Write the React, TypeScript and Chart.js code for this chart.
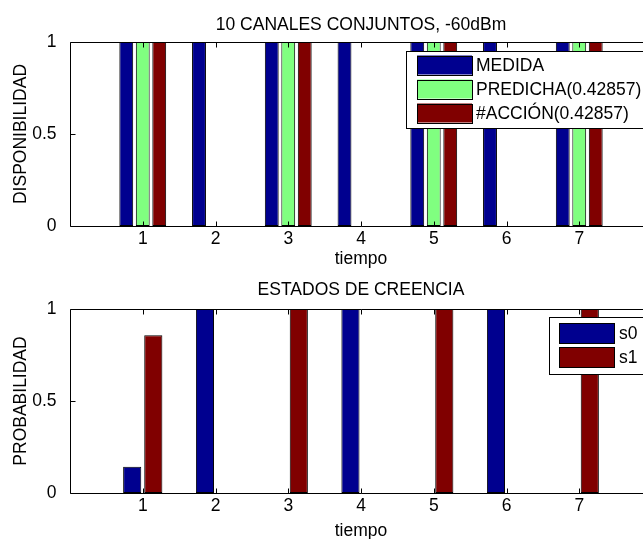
import React, { useEffect, useRef } from 'react';
import { Chart, registerables } from 'chart.js';

Chart.register(...registerables);

// ---- data ----
const TIME = [1, 2, 3, 4, 5, 6, 7];
const X_TICKS = [1, 2, 3, 4, 5, 6, 7];
const Y_TICKS = [0, 0.5, 1];
const MEDIDA = [1, 1, 1, 1, 1, 1, 1];
const PREDICHA = [1, 0, 1, 0, 1, 0, 1];
const ACCION = [1, 0, 1, 0, 1, 0, 1];
const S0 = [0.143, 1, 0, 1, 0, 1, 0];
const S1 = [0.857, 0, 1, 0, 1, 0, 1];
const TOP_LABELS = ['MEDIDA', 'PREDICHA(0.42857)', '#ACCIÓN(0.42857)'];
const BOTTOM_LABELS = ['s0', 's1'];
const TOP_TITLE = '10 CANALES CONJUNTOS, -60dBm';
const BOTTOM_TITLE = 'ESTADOS DE CREENCIA';
const X_TITLE = 'tiempo';
const TOP_Y_TITLE = 'DISPONIBILIDAD';
const BOTTOM_Y_TITLE = 'PROBABILIDAD';

const BLUE = '#00008f';
const GREEN = '#80ff80';
const RED = '#800000';

const FONT = "'Liberation Sans', Arial, Helvetica, sans-serif";
const FS = 17.5;

const framePlugin = {
  id: 'matlabFrame',
  afterDatasetsDraw(chart: any) {
    const { ctx, chartArea: a, scales } = chart;
    const xs = scales.x, ys = scales.y;
    const L = Math.round(a.left) + 0.5;
    const R = Math.round(a.right) + 0.5;
    const T = Math.round(a.top) + 0.5;
    const B = Math.round(a.bottom) + 0.5;
    ctx.save();
    ctx.strokeStyle = '#000';
    ctx.lineWidth = 1;
    ctx.beginPath();
    ctx.rect(L, T, R - L, B - T);
    for (const t of X_TICKS) {
      const px = Math.round(xs.getPixelForValue(t)) + 0.5;
      ctx.moveTo(px, B); ctx.lineTo(px, B - 5);
      ctx.moveTo(px, T); ctx.lineTo(px, T + 5);
    }
    for (const t of Y_TICKS) {
      const py = Math.round(ys.getPixelForValue(t)) + 0.5;
      ctx.moveTo(L, py); ctx.lineTo(L + 5, py);
      ctx.moveTo(R, py); ctx.lineTo(R - 5, py);
    }
    ctx.stroke();
    ctx.restore();
  },
};

const legendPlugin = {
  id: 'matlabLegend',
  afterDraw(chart: any, _args: any, opts: any) {
    const { ctx } = chart;
    const [bx, by, bw, bh] = opts.box;
    const [sx, sw, sh] = opts.swatch;
    ctx.save();
    ctx.fillStyle = '#fff';
    ctx.fillRect(bx, by, bw, bh);
    ctx.strokeStyle = '#000';
    ctx.lineWidth = 1;
    ctx.strokeRect(bx + 0.5, by + 0.5, bw, bh);
    ctx.font = `${FS}px ${FONT}`;
    ctx.textBaseline = 'middle';
    ctx.textAlign = 'left';
    chart.data.datasets.forEach((d: any, i: number) => {
      const cy = opts.rows[i];
      ctx.fillStyle = d.backgroundColor;
      ctx.fillRect(sx, cy - sh / 2, sw, sh);
      ctx.strokeStyle = '#000';
      ctx.strokeRect(sx + 0.5, Math.round(cy - sh / 2) + 0.5, sw, sh);
      ctx.fillStyle = '#000';
      ctx.fillText(d.label, opts.textX, cy + 1);
    });
    ctx.restore();
  },
};

function makeOptions(p: {
  title: string; yTitle: string; titlePad: { top: number; bottom: number };
  xHeight: number; xTitlePadBottom: number; cat: number; bar: number; legend: any;
}) {
  return {
    responsive: false,
    animation: false as const,
    layout: { padding: { left: 0, right: 28, top: 0, bottom: 0 } },
    datasets: { bar: { categoryPercentage: p.cat, barPercentage: p.bar } },
    plugins: {
      legend: { display: false },
      tooltip: { enabled: false },
      title: {
        display: true,
        text: p.title,
        fullSize: false,
        color: '#000',
        font: { family: FONT, size: FS, weight: 'normal' as const, lineHeight: 1.2 },
        padding: p.titlePad,
      },
      matlabLegend: p.legend,
    },
    scales: {
      x: {
        type: 'linear' as const,
        min: 0,
        max: 8,
        offset: false,
        grid: { display: false, offset: false },
        border: { display: false },
        afterFit: (s: any) => { s.height = p.xHeight; },
        ticks: {
          stepSize: 1,
          autoSkip: false,
          maxRotation: 0,
          padding: -5,
          color: '#000',
          font: { family: FONT, size: FS },
          callback: (v: any) => (X_TICKS.includes(v) ? String(v) : ''),
        },
        title: {
          display: true,
          text: X_TITLE,
          color: '#000',
          font: { family: FONT, size: FS, lineHeight: 1.2 },
          padding: { top: 0, bottom: p.xTitlePadBottom },
        },
      },
      y: {
        min: 0,
        max: 1,
        grid: { display: false },
        border: { display: false },
        afterFit: (s: any) => { s.width = 70; },
        ticks: {
          stepSize: 0.5,
          padding: 5.5,
          color: '#000',
          font: { family: FONT, size: FS },
          callback: (v: any) => (Y_TICKS.includes(v) ? String(v) : ''),
        },
        title: {
          display: true,
          text: p.yTitle,
          color: '#000',
          font: { family: FONT, size: FS, lineHeight: 1.2 },
          padding: { top: 11, bottom: 0 },
        },
      },
    },
  };
}

function series(vals: number[]) {
  return vals.map((y, i) => ({ x: TIME[i], y }));
}

const barStyle = { borderColor: '#000', borderWidth: 1, borderSkipped: false as const };

export default function App() {
  const topRef = useRef<HTMLCanvasElement>(null);
  const botRef = useRef<HTMLCanvasElement>(null);

  useEffect(() => {
    const top = new Chart(topRef.current!, {
      type: 'bar',
      data: {
        datasets: [
          { label: TOP_LABELS[0], data: series(MEDIDA), backgroundColor: BLUE, ...barStyle },
          { label: TOP_LABELS[1], data: series(PREDICHA), backgroundColor: GREEN, ...barStyle },
          { label: TOP_LABELS[2], data: series(ACCION), backgroundColor: RED, ...barStyle },
        ],
      },
      options: makeOptions({
        title: TOP_TITLE,
        yTitle: TOP_Y_TITLE,
        titlePad: { top: 14.5, bottom: 6.5 },
        xHeight: 44,
        xTitlePadBottom: 0,
        cat: 0.68,
        bar: 0.84,
        legend: { box: [406, 51, 300, 77], swatch: [417, 55, 19], rows: [65, 89, 113], textX: 476 },
      }) as any,
      plugins: [framePlugin, legendPlugin],
    });
    const bot = new Chart(botRef.current!, {
      type: 'bar',
      data: {
        datasets: [
          { label: BOTTOM_LABELS[0], data: series(S0), backgroundColor: BLUE, ...barStyle },
          { label: BOTTOM_LABELS[1], data: series(S1), backgroundColor: RED, ...barStyle },
        ],
      },
      options: makeOptions({
        title: BOTTOM_TITLE,
        yTitle: BOTTOM_Y_TITLE,
        titlePad: { top: 9.5, bottom: 8.5 },
        xHeight: 52,
        xTitlePadBottom: 3,
        cat: 0.58,
        bar: 0.86,
        legend: { box: [549, 47, 200, 57], swatch: [559, 55, 20], rows: [63, 87], textX: 619 },
      }) as any,
      plugins: [framePlugin, legendPlugin],
    });
    return () => { top.destroy(); bot.destroy(); };
  }, []);

  return (
    <div style={{ position: 'fixed', left: 0, top: 0, width: 643, height: 539, overflow: 'hidden', background: '#fff' }}>
      <canvas ref={topRef} width={680} height={270} style={{ position: 'absolute', left: 0, top: 0, width: 680, height: 270 }} />
      <canvas ref={botRef} width={680} height={275} style={{ position: 'absolute', left: 0, top: 270, width: 680, height: 275 }} />
    </div>
  );
}
